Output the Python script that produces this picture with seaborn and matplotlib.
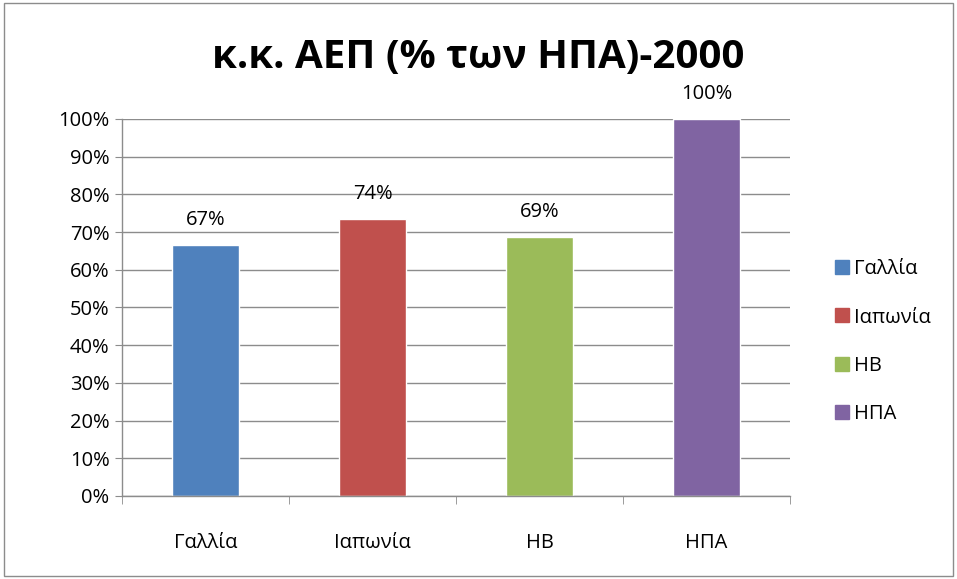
import pandas as pd
import matplotlib.pyplot as plt
import seaborn as sns
from matplotlib.patches import Rectangle
from matplotlib.ticker import PercentFormatter, FixedLocator

# Δεδομένα
countries = ['Γαλλία', 'Ιαπωνία', 'ΗΒ', 'ΗΠΑ']
gdp_pct = [66.6, 73.5, 68.6, 100.0]
value_labels = ['67%', '74%', '69%', '100%']
colors = ['#4F81BD', '#C0504D', '#9BBB59', '#8064A2']

df = pd.DataFrame({'country': countries, 'value': gdp_pct})

sns.set_style('white')
plt.rcParams['font.family'] = ['Open Sans', 'DejaVu Sans']
plt.rcParams['text.color'] = 'black'
plt.rcParams['xtick.color'] = 'black'
plt.rcParams['ytick.color'] = 'black'

fig = plt.figure(figsize=(9.57, 5.79), dpi=100)
ax = fig.add_axes([0.1275, 0.1434, 0.698, 0.6511])

sns.barplot(data=df, x='country', y='value', hue='country', palette=colors,
            width=0.4, ax=ax, legend=False, saturation=1)

ax.set_ylim(0, 100)
ax.set_xlim(-0.5, 3.5)
ax.set_yticks(range(0, 101, 10))
ax.yaxis.set_major_formatter(PercentFormatter(decimals=0))
ax.yaxis.grid(True, color='#8c8c8c', linewidth=1)
ax.set_axisbelow(True)

for s in ['top', 'right']:
    ax.spines[s].set_visible(False)
for s in ['left', 'bottom']:
    ax.spines[s].set_color('#8c8c8c')
    ax.spines[s].set_linewidth(1)

ax.tick_params(axis='y', which='major', length=5, color='#8c8c8c',
               labelcolor='black', labelsize=14.5, pad=4, left=True)
ax.tick_params(axis='x', which='major', length=0, labelcolor='black',
               labelsize=14.5, pad=27)
ax.xaxis.set_minor_locator(FixedLocator([-0.5, 0.5, 1.5, 2.5, 3.5]))
ax.tick_params(axis='x', which='minor', length=6, color='#8c8c8c', bottom=True)
ax.set_xlabel('')
ax.set_ylabel('')

for cont, lab in zip(ax.containers, [[v] for v in value_labels]):
    ax.bar_label(cont, labels=lab, padding=11, fontsize=14.5, color='black')

fig.text(0.5, 0.9, 'κ.κ. ΑΕΠ (% των ΗΠΑ)-2000', ha='center', va='center',
         fontsize=29, fontweight='bold', color='black')

handles = [plt.Line2D([], [], marker='s', linestyle='', markersize=10,
                      color=c) for c in colors]
fig.legend(handles, countries, loc='center left', bbox_to_anchor=(0.855, 0.41),
           frameon=False, fontsize=14.5, handlelength=0.6, handletextpad=0.3,
           labelspacing=1.4, labelcolor='black')

fig.patches.append(Rectangle((0.004, 0.006), 0.992, 0.988, transform=fig.transFigure,
                             fill=False, edgecolor='#8c8c8c', linewidth=1))

plt.savefig('out.png', dpi=100)
